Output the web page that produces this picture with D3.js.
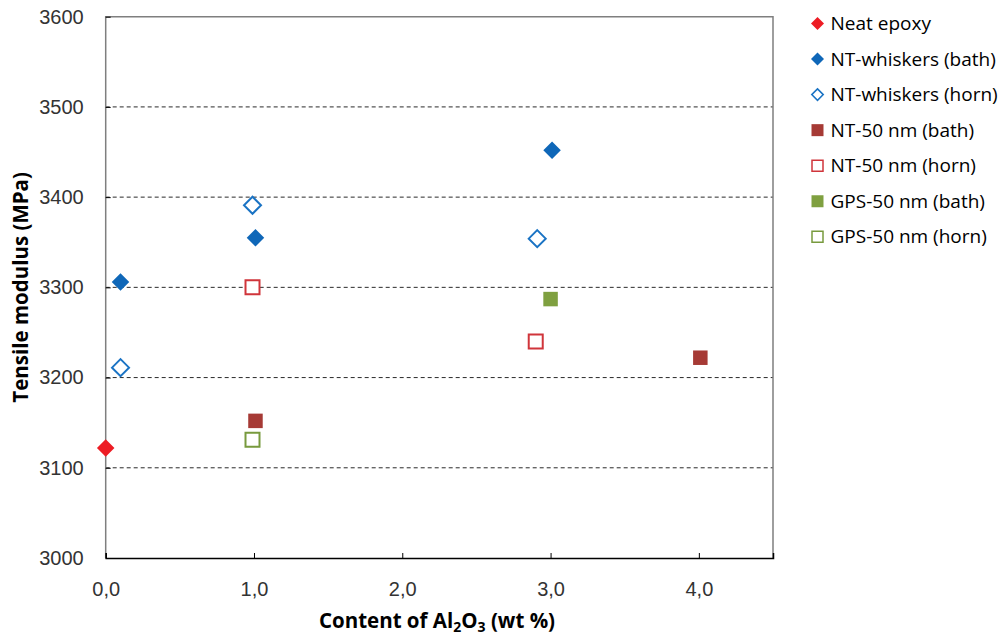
<!DOCTYPE html>
<html>
<head>
<meta charset="utf-8">
<script src="https://cdn.jsdelivr.net/npm/d3@7"></script>
<style>
  html, body { margin: 0; padding: 0; background: #fff; }
  svg { display: block; font-family: "Open Sans", sans-serif; }
</style>
</head>
<body>
<svg id="chart" width="1004" height="639"></svg>
<script>
// Tensile modulus of epoxy nanocomposites vs. alumina content
const seriesNames = ["Neat epoxy", "NT-whiskers (bath)", "NT-whiskers (horn)",
  "NT-50 nm (bath)", "NT-50 nm (horn)", "GPS-50 nm (bath)", "GPS-50 nm (horn)"];

const neatEpoxy       = [[0.0, 3122]];
const ntWhiskersBath  = [[0.1, 3306], [1.01, 3355], [3.01, 3452]];
const ntWhiskersHorn  = [[0.1, 3211], [0.99, 3391], [2.91, 3354]];
const nt50Bath        = [[1.01, 3152], [4.01, 3222]];
const nt50Horn        = [[0.99, 3300], [2.9, 3240]];
const gps50Bath       = [[3.0, 3287]];
const gps50Horn       = [[0.99, 3131]];

const xTicks = [0, 1, 2, 3, 4];
const yTicks = [3000, 3100, 3200, 3300, 3400, 3500, 3600];

const series = [
  { name: seriesNames[0], data: neatEpoxy,      shape: "diamond", fill: "#ed1c24", stroke: null },
  { name: seriesNames[1], data: ntWhiskersBath, shape: "diamond", fill: "#0f67b8", stroke: null },
  { name: seriesNames[2], data: ntWhiskersHorn, shape: "diamond", fill: "#fff",    stroke: "#1a73c4" },
  { name: seriesNames[3], data: nt50Bath,       shape: "square",  fill: "#a63a35", stroke: null },
  { name: seriesNames[4], data: nt50Horn,       shape: "square",  fill: "#fff",    stroke: "#d0353b" },
  { name: seriesNames[5], data: gps50Bath,      shape: "square",  fill: "#7fa040", stroke: null },
  { name: seriesNames[6], data: gps50Horn,      shape: "square",  fill: "#fff",    stroke: "#789a3e" }
];

const svg = d3.select("#chart");
const m = { left: 105.7, right: 773, top: 16.7, bottom: 558 };

const x = d3.scaleLinear().domain([0, 4.5]).range([m.left, m.right]);
const y = d3.scaleLinear().domain([3000, 3600]).range([m.bottom, m.top]);

const fmt = d => d.toFixed(1).replace(".", ",");

// dashed gridlines
svg.append("g").selectAll("line")
  .data(yTicks.filter(v => v > 3000 && v < 3600))
  .join("line")
  .attr("x1", m.left).attr("x2", m.right)
  .attr("y1", d => y(d)).attr("y2", d => y(d))
  .attr("stroke", "#2a2a2a").attr("stroke-width", 1)
  .attr("stroke-dasharray", "4,3");

// plot frame
svg.append("path")
  .attr("d", `M${m.left},${m.bottom}V${m.top}H${m.right}V${m.bottom}`)
  .attr("fill", "none").attr("stroke", "#7f7f7f").attr("stroke-width", 1.5);

// x axis
const xAxis = svg.append("g")
  .attr("transform", `translate(0,${m.bottom})`)
  .call(d3.axisBottom(x).tickValues(xTicks).tickFormat(fmt).tickSize(-5).tickPadding(22));
xAxis.select(".domain").attr("stroke", "#000").attr("stroke-width", 1.5);
xAxis.selectAll(".tick line").attr("stroke", "#000");
xAxis.selectAll("text").attr("font-size", 20).attr("fill", "#333").attr("y", 31).attr("dy", "0.35em");

// y axis
const yAxis = svg.append("g")
  .attr("transform", `translate(${m.left},0)`)
  .call(d3.axisLeft(y).tickValues(yTicks).tickFormat(d3.format("d")).tickSize(-5).tickPadding(22));
yAxis.select(".domain").remove();
yAxis.selectAll(".tick line").attr("stroke", "#000");
yAxis.selectAll("text").attr("font-size", 20).attr("fill", "#333").attr("x", -22);

// axis titles
svg.append("text")
  .attr("x", 437).attr("y", 628)
  .attr("text-anchor", "middle")
  .attr("font-size", 20.5).attr("font-weight", "bold").attr("fill", "#000")
  .call(t => {
    t.append("tspan").text("Content of Al");
    t.append("tspan").text("2").attr("font-size", 14).attr("dy", 4);
    t.append("tspan").text("O").attr("dy", -4);
    t.append("tspan").text("3").attr("font-size", 14).attr("dy", 4);
    t.append("tspan").text(" (wt %)").attr("dy", -4);
  });

svg.append("text")
  .attr("transform", `translate(28,${(m.top + m.bottom) / 2}) rotate(-90)`)
  .attr("text-anchor", "middle")
  .attr("font-size", 20.5).attr("font-weight", "bold").attr("fill", "#000")
  .text("Tensile modulus (MPa)");

// marker path generator
function markerPath(shape, size) {
  if (shape === "diamond") {
    const r = size / 2;
    return `M0,${-r}L${r},0L0,${r}L${-r},0Z`;
  }
  const h = size / 2;
  return `M${-h},${-h}H${h}V${h}H${-h}Z`;
}
function markerSize(s) {
  if (s.shape === "diamond") return s.stroke ? 17 : 17.5;
  return s.stroke ? 14 : 14.5;
}

// data points
series.forEach(s => {
  svg.append("g").selectAll("path")
    .data(s.data)
    .join("path")
    .attr("transform", d => `translate(${x(d[0])},${y(d[1])})`)
    .attr("d", markerPath(s.shape, markerSize(s)))
    .attr("fill", s.fill)
    .attr("stroke", s.stroke || "none")
    .attr("stroke-width", s.stroke ? 2 : 0);
});

// legend
const legend = svg.append("g").attr("transform", "translate(817.5,23.5)");
const rows = legend.selectAll("g").data(series).join("g")
  .attr("transform", (d, i) => `translate(0,${i * 35.55})`);
rows.append("path")
  .attr("d", d => markerPath(d.shape, d.shape === "diamond" ? (d.stroke ? 11.5 : 13) : (d.stroke ? 11 : 12)))
  .attr("fill", d => d.fill)
  .attr("stroke", d => d.stroke || "none")
  .attr("stroke-width", d => d.stroke ? 1.5 : 0);
rows.append("text")
  .attr("x", 13).attr("dy", "0.35em")
  .attr("font-size", 19).attr("fill", "#000")
  .text(d => d.name);
</script>
</body>
</html>
